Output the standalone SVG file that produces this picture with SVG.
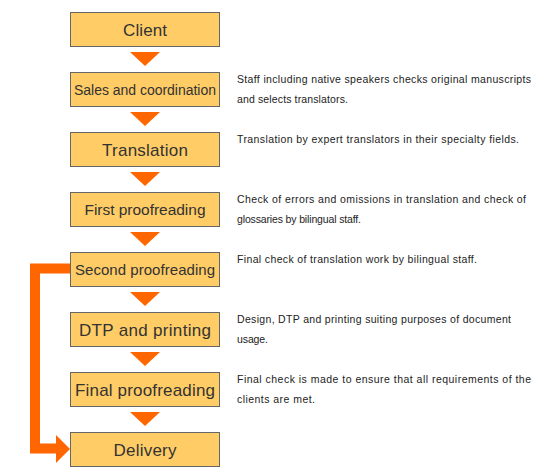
<svg xmlns="http://www.w3.org/2000/svg" width="535" height="470" viewBox="0 0 535 470">
<style>
.box{fill:#FFCC66;stroke:#666666;stroke-width:1}
.lbl{font-family:"Liberation Sans",Arial,sans-serif;fill:#333333;text-anchor:middle}
.desc{font-family:"Liberation Sans",Arial,sans-serif;font-size:10.5px;fill:#222222}
.tri{fill:#FF6600}
</style>
<rect width="535" height="470" fill="#ffffff"/>
<g id="connectors">
<polygon class="tri" points="130,52 160,52 145,66"/>
<polygon class="tri" points="130,112 160,112 145,126"/>
<polygon class="tri" points="130,172 160,172 145,186"/>
<polygon class="tri" points="130,232 160,232 145,246"/>
<polygon class="tri" points="130,292 160,292 145,306"/>
<polygon class="tri" points="130,352 160,352 145,366"/>
<polygon class="tri" points="130,412 160,412 145,426"/>
<polyline points="70,268.5 35,268.5 35,448.5 57,448.5" fill="none" stroke="#FF6600" stroke-width="10"/>
<polygon class="tri" points="56,435 56,463 70,449"/>
</g>
<g id="client"><rect class="box" x="70.5" y="12.5" width="149" height="34"/><text class="lbl" x="145" y="35.5" font-size="17" textLength="44">Client</text></g>
<g id="sales"><rect class="box" x="70.5" y="72.5" width="149" height="34"/><text class="lbl" x="145" y="94.5" font-size="14" textLength="142">Sales and coordination</text></g>
<g id="translation"><rect class="box" x="70.5" y="132.5" width="149" height="34"/><text class="lbl" x="145" y="155.5" font-size="17" textLength="86">Translation</text></g>
<g id="first"><rect class="box" x="70.5" y="192.5" width="149" height="34"/><text class="lbl" x="145" y="214.5" font-size="15.5" textLength="121">First proofreading</text></g>
<g id="second"><rect class="box" x="70.5" y="252.5" width="149" height="34"/><text class="lbl" x="145" y="274.5" font-size="15" textLength="140">Second proofreading</text></g>
<g id="dtp"><rect class="box" x="70.5" y="312.5" width="149" height="34"/><text class="lbl" x="145" y="335.5" font-size="17" textLength="132">DTP and printing</text></g>
<g id="final"><rect class="box" x="70.5" y="372.5" width="149" height="34"/><text class="lbl" x="145" y="395.5" font-size="17" textLength="140">Final proofreading</text></g>
<g id="delivery"><rect class="box" x="70.5" y="432.5" width="149" height="34"/><text class="lbl" x="145" y="455.5" font-size="17" textLength="63">Delivery</text></g>
<g id="descriptions">
<text class="desc" x="237" y="83" textLength="294">Staff including native speakers checks original manuscripts</text>
<text class="desc" x="237" y="103" textLength="111">and selects translators.</text>
<text class="desc" x="237" y="143" textLength="282">Translation by expert translators in their specialty fields.</text>
<text class="desc" x="237" y="203" textLength="289">Check of errors and omissions in translation and check of</text>
<text class="desc" x="237" y="223" textLength="124">glossaries by bilingual staff.</text>
<text class="desc" x="237" y="263" textLength="240">Final check of translation work by bilingual staff.</text>
<text class="desc" x="237" y="323" textLength="274">Design, DTP and printing suiting purposes of document</text>
<text class="desc" x="237" y="343" textLength="31">usage.</text>
<text class="desc" x="237" y="383" textLength="294">Final check is made to ensure that all requirements of the</text>
<text class="desc" x="237" y="403" textLength="78">clients are met.</text>
</g>
</svg>
